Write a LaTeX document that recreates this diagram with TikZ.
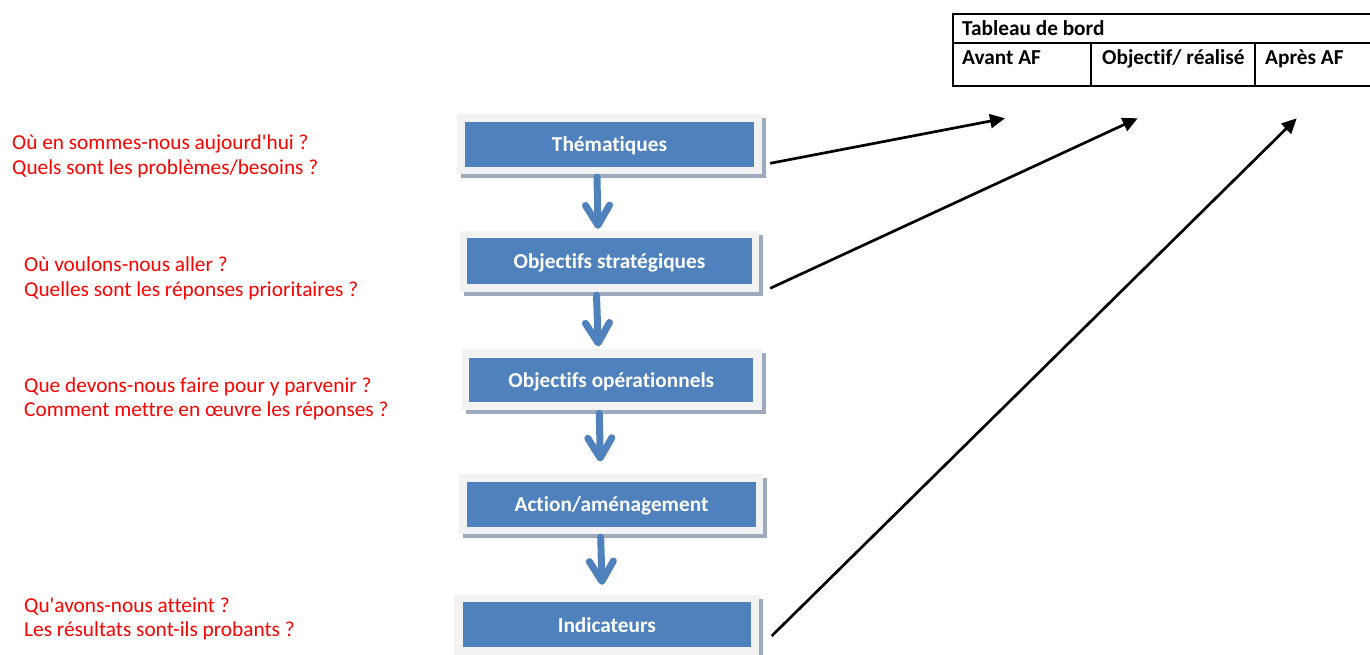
\documentclass[tikz,border=0pt]{standalone}
\usepackage{fontspec}
\setmainfont{Carlito}[Ligatures={NoCommon,NoRare,NoDiscretionary,NoContextual}]
\usetikzlibrary{arrows.meta,shadows,calc}
\definecolor{boxblue}{HTML}{4F81BD}
\definecolor{framegray}{HTML}{F2F2F2}
\definecolor{shadowgray}{HTML}{9DA9BC}
\definecolor{qred}{HTML}{FF0000}
\begin{document}
\begin{tikzpicture}[x=1pt,y=-1pt,
  outerbox/.style={fill=framegray, draw=none, inner sep=0pt,
    general shadow={fill=shadowgray, shadow xshift=4pt, shadow yshift=-4pt}},
  innerbox/.style={fill=boxblue, draw=none, inner sep=0pt, text=white,
    text height=15pt, text depth=0pt,
    font=\fontsize{21.3}{25}\selectfont\bfseries},
  question/.style={text=qred, anchor=base west, inner sep=0pt,
    font=\fontsize{21.3}{25}\selectfont},
  cell/.style={anchor=base west, inner sep=0pt, font=\fontsize{21.3}{25}\selectfont\bfseries},
  flowarrow/.style={draw=boxblue, line width=7pt, line cap=round, line join=round,
    -{Straight Barb[length=20pt,width=24pt,line cap=round,line join=round]}},
  linkarrow/.style={draw=black, line width=2.7pt, -{Triangle[length=15pt,width=14pt]}},
  tableline/.style={draw=black, line width=2.2pt}]
\useasboundingbox (0,0) rectangle (1370,655);

% Boxes: outer light frames with shadows
\node[outerbox, minimum width=305pt, minimum height=60pt] (t) at (609.5,144) {};
\node[outerbox, minimum width=299pt, minimum height=61pt] (o) at (609.5,261.5) {};
\node[outerbox, minimum width=300pt, minimum height=61pt] (p) at (611.7,379.7) {};
\node[outerbox, minimum width=304pt, minimum height=60pt] (a) at (611,504) {};
\node[outerbox, minimum width=305pt, minimum height=64pt] (i) at (606.5,627) {};

% Inner blue boxes with labels
\node[innerbox, minimum width=289pt, minimum height=45pt] (ti) at (609.5,144.2) {Thématiques};
\node[innerbox, minimum width=285pt, minimum height=46pt] (oi) at (609.5,261) {Objectifs stratégiques};
\node[innerbox, minimum width=284pt, minimum height=44pt] (pi) at (611.3,379.5) {Objectifs opérationnels};
\node[innerbox, minimum width=289pt, minimum height=45pt] (ai) at (611.5,504.2) {Action/aménagement};
\node[innerbox, minimum width=288pt, minimum height=45pt] (ii) at (606.8,624.8) {Indicateurs};

% Blue flow arrows
\draw[flowarrow] ([xshift=-12.5pt,yshift=-3pt]t.south) -- ([xshift=-11.5pt,yshift=2pt]o.north);
\draw[flowarrow] ([xshift=-13pt,yshift=-3pt]o.south) -- ([xshift=-13.4pt,yshift=2.6pt]p.north);
\draw[flowarrow] ([xshift=-12.4pt,yshift=-3pt]p.south) -- ([xshift=-10.7pt,yshift=12.3pt]a.north);
\draw[flowarrow] ([xshift=-10.3pt,yshift=-3pt]a.south) -- ([xshift=-4.5pt,yshift=10pt]i.north);

% Questions
\node[question] (q1a) at (12,149.3) {Où en sommes-nous aujourd\textquotesingle hui ?};
\node[question] (q1b) at (12,174.3) {Quels sont les problèmes/besoins ?};
\node[question] (q2a) at (24,271.7) {Où voulons-nous aller ?};
\node[question] (q2b) at (24,296) {Quelles sont les réponses prioritaires ?};
\node[question] (q3a) at (24,392.3) {Que devons-nous faire pour y parvenir ?};
\node[question] (q3b) at (24,416.5) {Comment mettre en œuvre les réponses ?};
\node[question] (q4a) at (24,612.3) {Qu\textquotesingle avons-nous atteint ?};
\node[question] (q4b) at (24,636.7) {Les résultats sont-ils probants ?};

% Table
\draw[tableline] (1370,14) -- (953,14) -- (953,86) -- (1370,86);
\draw[tableline] (953,43) -- (1370,43);
\draw[tableline] (1091,43) -- (1091,86);
\draw[tableline] (1255,43) -- (1255,86);
\node[cell] (tb) at (962,36) {Tableau de bord};
\node[cell] (av) at (962,65) {Avant AF};
\node[cell] (ob) at (1102,65) {Objectif/ réalisé};
\node[cell] (ap) at (1265,65) {Après AF};

% Link arrows
\coordinate (e1) at (1005,118.3);
\coordinate (e2) at (1137.7,118.3);
\coordinate (e3) at (1296.7,118.3);
\draw[linkarrow] ([shift={(8,19.3)}]t.east) -- (e1);
\draw[linkarrow] ([shift={(11,26.8)}]o.east) -- (e2);
\draw[linkarrow] ([shift={(12.5,9)}]i.east) -- (e3);
\end{tikzpicture}
\end{document}
